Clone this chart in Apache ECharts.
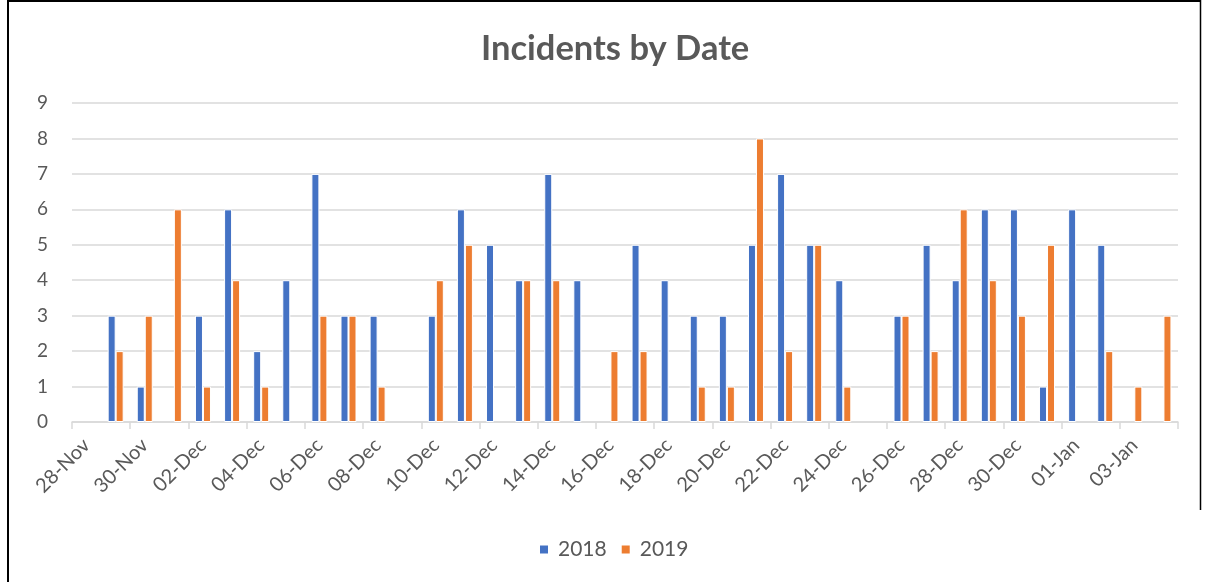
<!DOCTYPE html>
<html>
<head>
<meta charset="utf-8">
<script src="https://cdn.jsdelivr.net/npm/echarts@6/dist/echarts.min.js"></script>
<style>
html,body{margin:0;padding:0;background:#fff;}
#c{width:1206px;height:582px;}
</style>
</head>
<body>
<div id="c"></div>
<script>
const dates = ['28-Nov','29-Nov','30-Nov','01-Dec','02-Dec','03-Dec','04-Dec','05-Dec','06-Dec','07-Dec','08-Dec','09-Dec','10-Dec','11-Dec','12-Dec','13-Dec','14-Dec','15-Dec','16-Dec','17-Dec','18-Dec','19-Dec','20-Dec','21-Dec','22-Dec','23-Dec','24-Dec','25-Dec','26-Dec','27-Dec','28-Dec','29-Dec','30-Dec','31-Dec','01-Jan','02-Jan','03-Jan','04-Jan'];
const s2018 = [0,3,1,0,3,6,2,4,7,3,3,0,3,6,5,4,7,4,0,5,4,3,3,5,7,5,4,0,3,5,4,6,6,1,6,5,0,0];
const s2019 = [0,2,3,6,1,4,1,0,3,3,1,0,4,5,0,4,4,0,2,2,0,1,1,8,2,5,1,0,3,2,6,4,3,5,0,2,1,3];
const yTicks = [0,1,2,3,4,5,6,7,8,9];

const chart = echarts.init(document.getElementById('c'));
const FONT = 'Lato';
const TXT = '#595959';
const hideZero = arr => arr.map(v => (v === 0 ? null : v));
chart.setOption({
  animation: false,
  backgroundColor: '#fff',
  title: {
    text: 'Incidents by Date',
    left: 476,
    top: 26,
    textStyle: {fontFamily: FONT, fontSize: 34.5, fontWeight: 'bold', color: TXT}
  },
  legend: {
    data: ['2018','2019'],
    top: 534,
    left: 533,
    itemWidth: 10,
    itemHeight: 10,
    itemGap: 13,
    icon: 'rect',
    textStyle: {fontFamily: FONT, fontSize: 21, color: TXT, padding: [0, 0, 0, 4]}
  },
  grid: {left: 72, right: 28, top: 103, bottom: 160, containLabel: false},
  xAxis: {
    type: 'category',
    data: dates,
    boundaryGap: true,
    axisLine: {lineStyle: {color: '#d9d9d9', width: 1.5}},
    axisTick: {show: true, interval: 1, length: 7, lineStyle: {color: '#d9d9d9', width: 1.5}},
    axisLabel: {interval: 1, rotate: 45, margin: 20, fontFamily: FONT, fontSize: 20, color: TXT}
  },
  yAxis: {
    type: 'value',
    min: 0, max: 9, interval: 1,
    axisLine: {show: false},
    axisTick: {show: false},
    axisLabel: {margin: 24, fontFamily: FONT, fontSize: 19, color: TXT,
      formatter: v => String(yTicks[v])},
    splitLine: {lineStyle: {color: '#d9d9d9', width: 1.5}}
  },
  series: [
    {name: '2018', type: 'bar', data: hideZero(s2018), barWidth: 8, barGap: '0%',
     itemStyle: {color: '#4472C4', borderColor: '#fff', borderWidth: 1}},
    {name: '2019', type: 'bar', data: hideZero(s2019), barWidth: 8, barGap: '0%',
     itemStyle: {color: '#ED7D31', borderColor: '#fff', borderWidth: 1}}
  ],
  graphic: [
    {type: 'line', shape: {x1: 7, y1: 1, x2: 1201, y2: 1}, style: {stroke: '#000', lineWidth: 2}},
    {type: 'line', shape: {x1: 8, y1: 0, x2: 8, y2: 582}, style: {stroke: '#000', lineWidth: 2}},
    {type: 'line', shape: {x1: 1200.5, y1: 0, x2: 1200.5, y2: 510}, style: {stroke: '#000', lineWidth: 1.5}}
  ]
});
</script>
</body>
</html>
